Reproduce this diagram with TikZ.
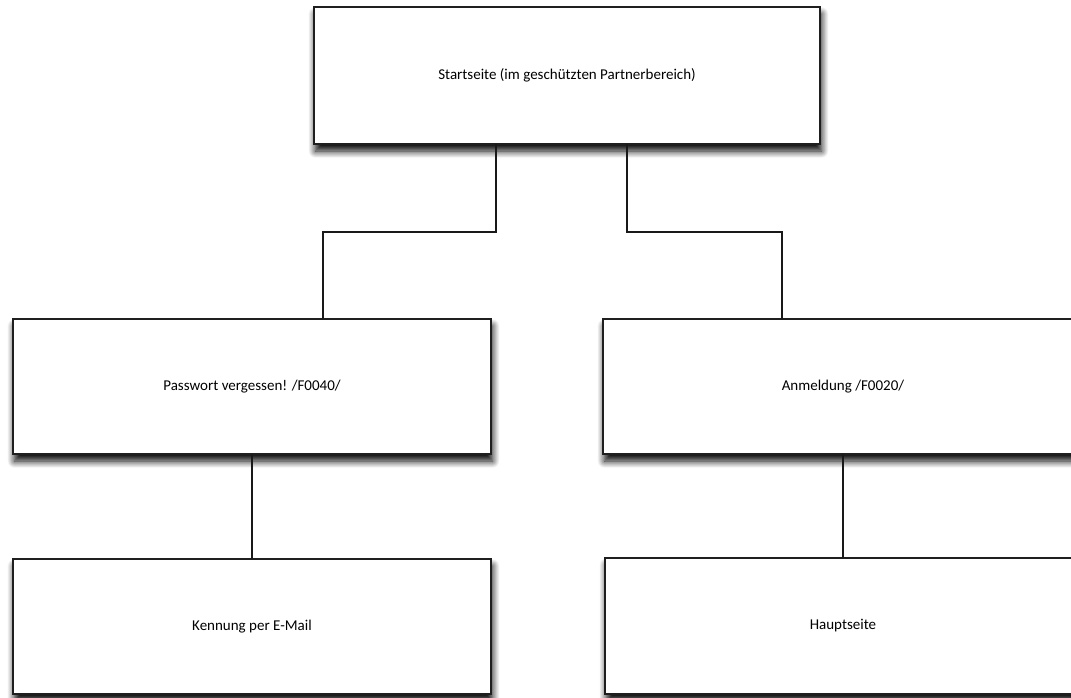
\documentclass[tikz,border=0pt]{standalone}
\usepackage{fontspec}
\setmainfont{Carlito}
\usetikzlibrary{shadows.blur}
\tikzset{
  pagebox/.style={draw=black!88, line width=1.8pt, fill=white, inner sep=0pt, outer sep=0pt,
    font=\fontsize{15}{18}\selectfont,
    blur shadow={shadow xshift=1.5pt, shadow yshift=-7pt, shadow blur radius=7pt, shadow blur steps=12, shadow opacity=100}},
  link/.style={draw=black!90, line width=1.5pt}
}
\begin{document}
\begin{tikzpicture}[x=1pt,y=1pt]
\useasboundingbox (0,0) rectangle (1071,-697);
\clip (0,0) rectangle (1071,-697);
\node[pagebox, minimum width=506pt, minimum height=137pt] (top) at (567,-75.5) {Startseite (im geschützten Partnerbereich)};
\node[pagebox, minimum width=478pt, minimum height=135pt] (pw) at (252,-386.5) {Passwort vergessen! /F0040/};
\node[pagebox, minimum width=480pt, minimum height=135pt] (anm) at (843,-386.5) {Anmeldung /F0020/};
\node[pagebox, minimum width=478pt, minimum height=135pt] (kenn) at (252,-626.5) {Kennung per E-Mail};
\node[pagebox, minimum width=476pt, minimum height=136pt] (haupt) at (843,-626) {Hauptseite};
\draw[link] ([xshift=-71pt]top.south) -- ++(0,-88) -| ([xshift=71pt]pw.north);
\draw[link] ([xshift=60pt]top.south) -- ++(0,-88) -| ([xshift=-61pt]anm.north);
\draw[link] (pw.south) -- (kenn.north);
\draw[link] (anm.south) -- (haupt.north);
\end{tikzpicture}
\end{document}
